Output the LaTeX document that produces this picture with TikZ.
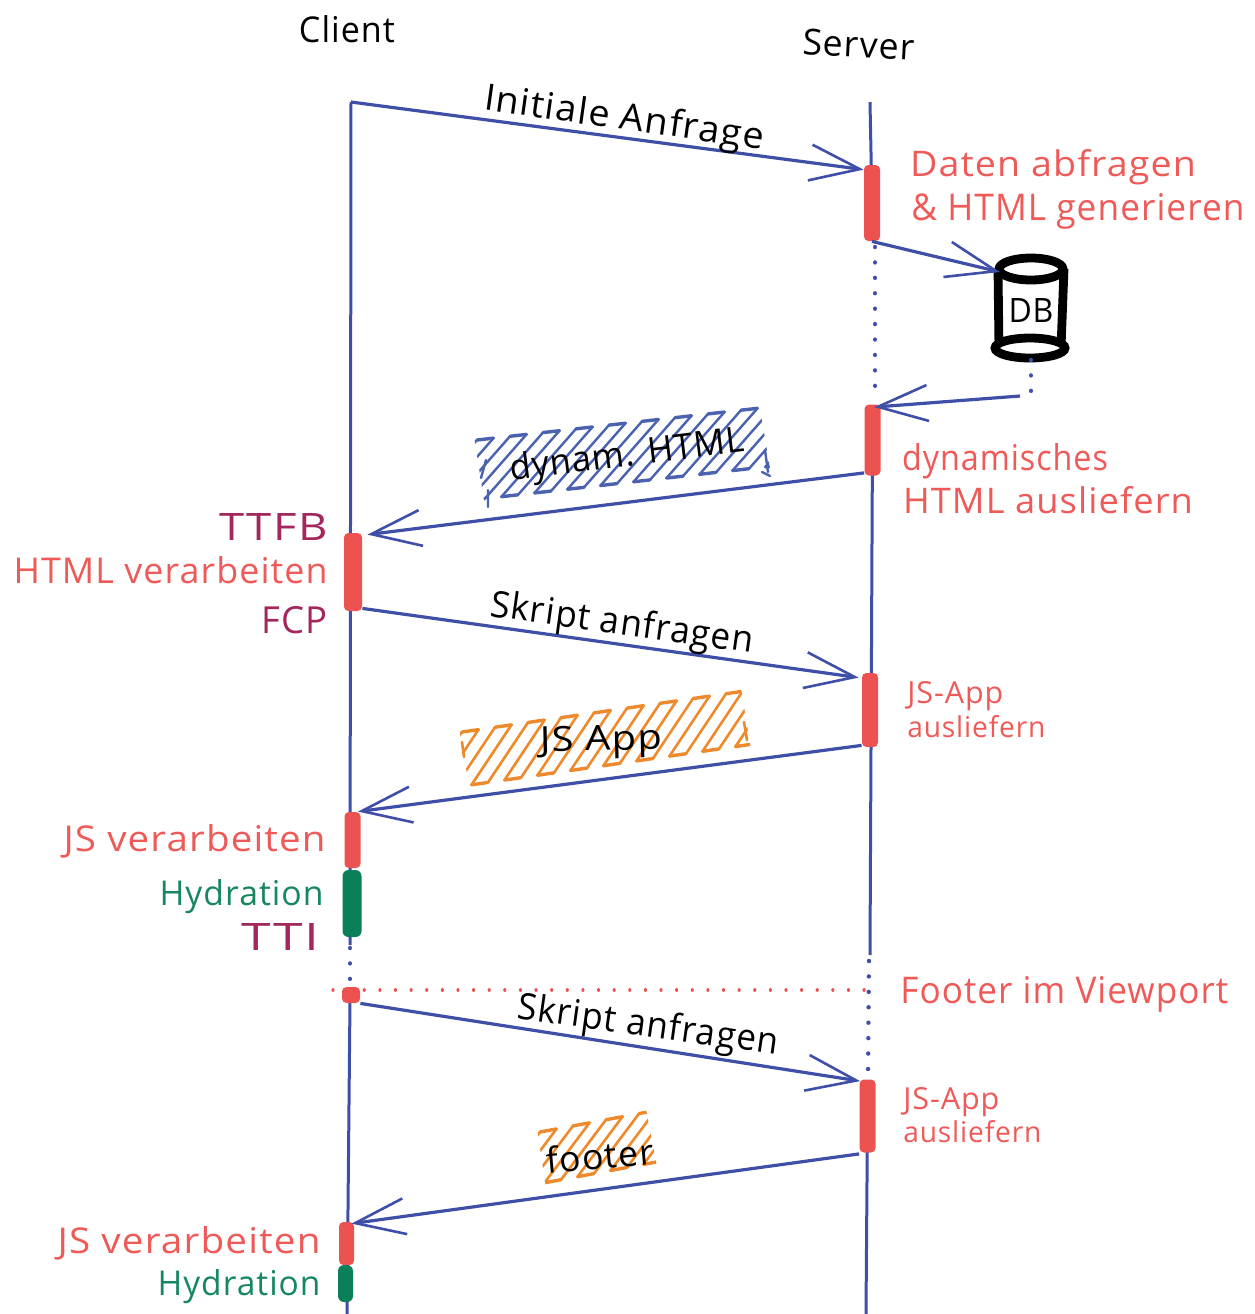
\documentclass[tikz,border=0pt]{standalone}
\usepackage{fontspec}
\usepackage{graphicx}
\setmainfont[LetterSpace=3]{Open Sans}
\usetikzlibrary{arrows.meta,calc}
\definecolor{lineblue}{HTML}{3F4FA8}
\definecolor{hatchblue}{HTML}{4A62B0}
\definecolor{barred}{HTML}{EC5350}
\definecolor{txtred}{HTML}{EE5A58}
\definecolor{bargreen}{HTML}{0B7F5A}
\definecolor{txtgreen}{HTML}{16875F}
\definecolor{txtmag}{HTML}{A3275C}
\definecolor{hatchorange}{HTML}{EE8A2C}
% width and ascender height, both in reference pixels
\newcommand{\fw}[3]{\resizebox{\dimexpr #1pt/2\relax}{\dimexpr #2pt/2\relax}{#3}}
% band: TLx TLy spacing slope dx dy count
\newcommand{\hatchlines}[7]{%
  \foreach \k in {0,...,#7}{%
    \pgfmathsetmacro{\tx}{#1+\k*#3}%
    \pgfmathsetmacro{\ty}{#2+\k*#3*#4}%
    \pgfmathsetmacro{\nx}{\tx+#3}%
    \pgfmathsetmacro{\ny}{\ty+#3*#4}%
    \pgfmathsetmacro{\isodd}{int(mod(\k,2))}%
    \draw (\tx,\ty) -- ++(-#5,#6);
    \ifnum\isodd=0 \draw[line width=1.7pt] (\tx,\ty) -- (\nx,\ny);
    \else \draw[line width=1.7pt] (\tx-#5,\ty+#6) -- (\nx-#5,\ny+#6); \fi
  }%
}
\tikzset{
  msg/.style={draw=lineblue,line width=1.6pt,-{Straight Barb[length=25pt,width=18pt,line width=1.3pt]}},
  life/.style={draw=lineblue,line width=1.5pt},
  lifedot/.style={draw=lineblue,line width=2.2pt,line cap=round,dash pattern=on 0.01pt off 7.7pt},
  reddot/.style={draw=barred,line width=1.6pt,line cap=round,dash pattern=on 0.01pt off 7.8pt},
  redbar/.style={fill=barred,rectangle,rounded corners=2.2pt,inner sep=0pt,minimum width=8pt},
  greenbar/.style={fill=bargreen,rectangle,rounded corners=3pt,inner sep=0pt,minimum width=9.5pt},
  lab/.style={inner sep=0pt,font=\fontsize{17}{20}\selectfont},
  blk/.style={lab,text=black},
  redt/.style={lab,text=txtred},
  grnt/.style={lab,text=txtgreen},
  magt/.style={lab,text=txtmag},
  hatchb/.style={draw=hatchblue,line width=1.2pt,line cap=round},
  hatcho/.style={draw=hatchorange,line width=1.3pt,line cap=round},
  dbline/.style={draw=black,line width=4.4pt},
}
\begin{document}
\begin{tikzpicture}[x=0.5pt,y=-0.5pt]
\useasboundingbox (0,0) rectangle (1255,1314);
% hatching
\begin{scope}[hatchb]
  \clip (474,436) -- (759,403) -- (772,480) -- (486,513) -- cycle;
  \hatchlines{477}{440}{16.5}{-0.113}{58}{66}{21}
\end{scope}
\draw[hatchb] (481,478) -- (486,460) (488,490) -- (488,507) (765,450) -- (768,472) (762,472) -- (770,476);
\begin{scope}[hatcho]
  \clip (459,728) -- (741,688) -- (753,762) -- (471,797) -- cycle;
  \hatchlines{462}{732}{16.5}{-0.145}{40}{60}{19}
\end{scope}
\draw[hatcho] (462,742) -- (464,757) (744,722) -- (747,740);
\begin{scope}[hatcho]
  \clip (537,1128) -- (646,1109) -- (657,1167) -- (547,1195) -- cycle;
  \hatchlines{540}{1132}{16.5}{-0.186}{45}{60}{10}
\end{scope}
% life line ends
\coordinate (ct) at (351,102);
\coordinate (c1e) at (350,945);
\coordinate (c2s) at (350,948);
\coordinate (c2e) at (350,985);
\coordinate (c3s) at (350,1000);
\coordinate (c3e) at (347,1314);
\coordinate (st) at (870,102);
\coordinate (s2e) at (870,955);
\coordinate (s4e) at (866,1314);
\coordinate (dotl) at (333,990);
\coordinate (dotr) at (872,990);
\coordinate (dbout) at (1020,396);
% bars
\coordinate (b1) at (872,203);
\coordinate (b2) at (872.5,440);
\coordinate (b3) at (870,710);
\coordinate (b4) at (867.5,1116);
% database
\coordinate (dbtop) at (1031,269);
\coordinate (dbbot) at (1030,348);
\coordinate (dbin) at (1000,272);
\coordinate (dbdot) at (1031,360);
\coordinate (dbdote) at (1031,392);
\draw[dbline] ($(dbtop)+(-33,0)$) -- ($(dbbot)+(-31,0)$);
\draw[dbline] ($(dbtop)+(33,0)$) -- ($(dbbot)+(31,0)$);
\draw[dbline,fill=white] (dbtop) ellipse [x radius=32,y radius=11];
\draw[dbline,fill=white] (dbbot) ellipse [x radius=35,y radius=10];
\node[blk,anchor=base] (dbl) at (1031,322) {\fw{45}{24}{DB}};
% life lines
\draw[life] (ct) -- (c1e);
\draw[lifedot] (c2s) -- (c2e);
\draw[life] (c3s) -- (c3e);
\draw[life] (st) -- (b1);
\draw[lifedot] (875,247) -- (875,400);
\draw[life] (b2) -- (s2e);
\draw[lifedot] (s2e) ++(-1,6) -- (868,1075);
\draw[life] (b4) -- (s4e);
\draw[lifedot] (dbdot) -- (dbdote);
\draw[reddot] (dotl) -- (dotr);
% bars on top of the life lines
\node[redbar,minimum height=38pt] (r1) at (b1) {};
\node[redbar,minimum height=35.5pt] (r2) at (b2) {};
\node[redbar,minimum height=37pt] (r3) at (b3) {};
\node[redbar,minimum height=36.5pt] (r4) at (b4) {};
\node[redbar,minimum height=39pt,minimum width=9pt] (c1) at (353,572) {};
\node[redbar,minimum height=28pt] (c2) at (352.5,840) {};
\node[greenbar,minimum height=33.5pt] (g1) at (352,903.5) {};
\node[redbar,minimum height=8pt,minimum width=9pt] (c3) at (351,995) {};
\node[redbar,minimum height=21.5pt,minimum width=7.5pt] (c4) at (346.5,1243.5) {};
\node[greenbar,minimum height=18.5pt,minimum width=7.5pt] (g2) at (345.5,1283.5) {};
% messages
\draw[msg] (ct) -- ($(r1.north west)+(0,5)$);
\draw[msg] (r1.south) -- (dbin);
\draw[msg] (dbout) -- ($(r2.north west)+(10,3)$);
\draw[msg] ($(r2.south west)+(0,-3)$) -- ($(c1.north east)+(5,2)$);
\draw[msg] ($(c1.south east)+(0,-3)$) -- ($(r3.north west)+(-3,5)$);
\draw[msg] ($(r3.south west)+(0,-2)$) -- ($(c2.north east)+(-3,0)$);
\draw[msg] (c3.south east) -- ($(r4.north west)+(1,2)$);
\draw[msg] ($(r4.south west)+(0,1)$) -- ($(c4.north east)+(-3,2)$);
% texts
\node[blk,anchor=base] (tclient) at (347,42) {\fw{96}{27}{Client}};
\node[blk,rotate=-3,anchor=base] (tserver) at (858,57) {\fw{112}{26}{Server}};
\node[blk,rotate=-8] (t1) at (624,120) {\fw{282}{28}{Initiale Anfrage}};
\node[redt,anchor=base] (t2) at (1053,176) {\fw{286}{27}{Daten abfragen}};
\node[redt,anchor=base] (t3) at (1078,220) {\fw{333}{27}{\& HTML generieren}};
\node[redt,anchor=base] (t4) at (1005,470) {\fw{206}{27}{dynamisches}};
\node[redt,anchor=base] (t5) at (1048,513) {\fw{290}{27}{HTML ausliefern}};
\node[blk,rotate=7] (t6) at (627,457) {\fw{236}{27}{dynam. HTML}};
\node[magt,anchor=base east] (t7) at (328,540) {\fw{108}{27}{TTFB}};
\node[redt,anchor=base east] (t8) at (328,583) {\fw{314}{27}{HTML verarbeiten}};
\node[magt,anchor=base east] (t9) at (328,633) {\fw{66}{27}{FCP}};
\node[blk,rotate=-8] (t10) at (622,625) {\fw{265}{28}{Skript anfragen}};
\node[redt,anchor=base west] (t11) at (907,703) {\fw{96}{22}{JS-App}};
\node[redt,anchor=base west] (t12) at (907,737) {\fw{138}{22}{ausliefern}};
\node[blk,rotate=1] (t13) at (601,742) {\fw{122}{25}{JS App}};
\node[redt,anchor=base east] (t14) at (326,851) {\fw{262}{27}{JS verarbeiten}};
\node[grnt,anchor=base east] (t15) at (324,905) {\fw{164}{26}{Hydration}};
\node[magt,anchor=base east] (t16) at (320,950) {\fw{78}{27}{TTI}};
\node[redt,anchor=base west] (t17) at (900,1003) {\fw{328}{27}{Footer im Viewport}};
\node[blk,rotate=-8] (t18) at (648,1027) {\fw{263}{28}{Skript anfragen}};
\node[redt,anchor=base west] (t19) at (903,1109) {\fw{96}{22}{JS-App}};
\node[redt,anchor=base west] (t20) at (903,1142) {\fw{138}{22}{ausliefern}};
\node[blk,rotate=5] (t21) at (600,1156) {\fw{107}{27}{footer}};
\node[redt,anchor=base east] (t22) at (321,1253) {\fw{263}{27}{JS verarbeiten}};
\node[grnt,anchor=base east] (t23) at (321,1295) {\fw{163}{26}{Hydration}};
\end{tikzpicture}
\end{document}
